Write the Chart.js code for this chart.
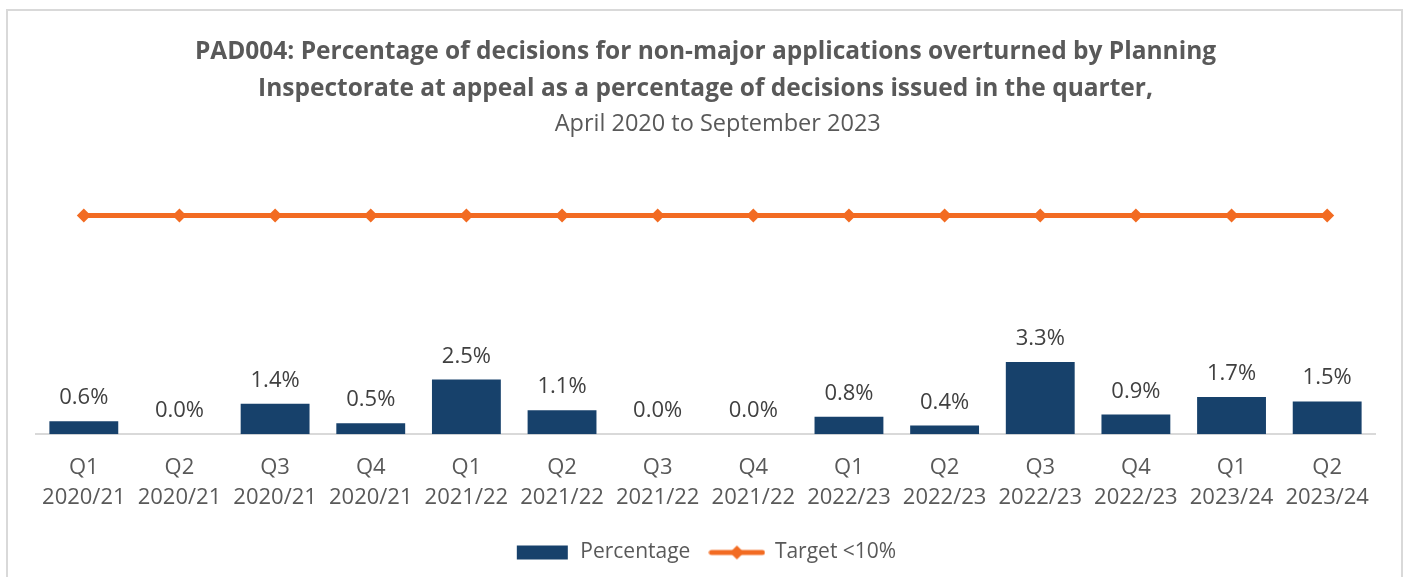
<!DOCTYPE html>
<html>
<head>
<meta charset="utf-8">
<script src="https://cdn.jsdelivr.net/npm/chart.js@4.4.0/dist/chart.umd.min.js"></script>
<style>
  html, body { margin: 0; padding: 0; background: #fff; }
  #wrap {
    position: absolute; left: 6px; top: 9px;
    width: 1393px; height: 570px;
    border: 2px solid #d9d9d9; background: #fff;
  }
</style>
</head>
<body>
<div id="wrap"><canvas id="grafico"></canvas></div>
<script>
const quarters = ["Q1", "Q2", "Q3", "Q4", "Q1", "Q2", "Q3", "Q4", "Q1", "Q2", "Q3", "Q4", "Q1", "Q2"];
const years = ["2020/21", "2020/21", "2020/21", "2020/21", "2021/22", "2021/22", "2021/22", "2021/22",
               "2022/23", "2022/23", "2022/23", "2022/23", "2023/24", "2023/24"];
const percentage = [0.6, 0.0, 1.4, 0.5, 2.5, 1.1, 0.0, 0.0, 0.8, 0.4, 3.3, 0.9, 1.7, 1.5];
const target = [10, 10, 10, 10, 10, 10, 10, 10, 10, 10, 10, 10, 10, 10];

const labels = quarters.map((q, i) => [q, years[i]]);

const AZUL = "#17416b";
const LARANJA = "#f26b22";
const CINZA = "#595959";
const FONTE = "'Open Sans', sans-serif";

// icones da legenda
function iconeLegenda(tipo) {
    const c = document.createElement("canvas");
    c.width = 57; c.height = 16;
    const g = c.getContext("2d");
    if (tipo === "bar") {
        g.fillStyle = AZUL;
        g.fillRect(3, 1, 51, 14);
    } else {
        g.strokeStyle = LARANJA;
        g.lineWidth = 5;
        g.lineCap = "round";
        g.beginPath(); g.moveTo(3, 8); g.lineTo(54, 8); g.stroke();
        g.fillStyle = LARANJA;
        g.beginPath();
        g.moveTo(28.5, 1); g.lineTo(35.5, 8); g.lineTo(28.5, 15); g.lineTo(21.5, 8);
        g.closePath(); g.fill();
    }
    return c;
}

// rotulos em cima das barras
const rotulosBarras = {
    id: "rotulosBarras",
    afterDatasetsDraw(chart) {
        const ctx = chart.ctx;
        const meta = chart.getDatasetMeta(1);
        ctx.save();
        ctx.font = "22px " + FONTE;
        ctx.fillStyle = "#404040";
        ctx.textAlign = "center";
        ctx.textBaseline = "alphabetic";
        meta.data.forEach((bar, i) => {
            ctx.fillText(percentage[i].toFixed(1) + "%", bar.x, bar.y - 17);
        });
        ctx.restore();
    }
};

const ctxGrafico = document.getElementById("grafico");

new Chart(ctxGrafico, {
    data: {
        labels: labels,
        datasets: [
            {
                type: "line",
                label: "Target <10%",
                data: target,
                borderColor: LARANJA,
                backgroundColor: LARANJA,
                borderWidth: 5,
                pointStyle: "rectRot",
                pointRadius: 7,
                pointHoverRadius: 7,
                pointBorderWidth: 0,
                tension: 0,
                order: 0
            },
            {
                type: "bar",
                label: "Percentage",
                data: percentage,
                backgroundColor: AZUL,
                categoryPercentage: 0.8,
                barPercentage: 0.9,
                order: 1
            }
        ]
    },
    options: {
        responsive: true,
        maintainAspectRatio: false,
        animation: false,
        layout: { padding: { left: 28, right: 26, top: 23, bottom: 8 } },
        plugins: {
            title: {
                display: true,
                text: ["PAD004: Percentage of decisions for non-major applications overturned by Planning",
                       "Inspectorate at appeal as a percentage of decisions issued in the quarter,"],
                color: CINZA,
                font: { family: FONTE, size: 24.5, weight: "bold", lineHeight: 1.51 },
                padding: { top: 0, bottom: 0 }
            },
            subtitle: {
                display: true,
                text: "    April 2020 to September 2023",
                color: CINZA,
                font: { family: FONTE, size: 23.5, lineHeight: 1.4 },
                padding: { top: 0, bottom: 31 }
            },
            legend: {
                position: "bottom",
                labels: {
                    color: CINZA,
                    font: { family: FONTE, size: 21 },
                    usePointStyle: true,
                    pointStyleWidth: 55,
                    boxHeight: 16,
                    padding: 19,
                    generateLabels() {
                        return [
                            { text: "Percentage", pointStyle: iconeLegenda("bar"), fontColor: CINZA, lineWidth: 0, strokeStyle: "transparent", fillStyle: AZUL, datasetIndex: 1 },
                            { text: "Target <10%", pointStyle: iconeLegenda("line"), fontColor: CINZA, lineWidth: 0, strokeStyle: "transparent", fillStyle: LARANJA, datasetIndex: 0 }
                        ];
                    }
                }
            },
            tooltip: { enabled: false }
        },
        scales: {
            x: {
                grid: { display: false },
                border: { display: true, color: "#d9d9d9", width: 2 },
                ticks: {
                    color: CINZA,
                    font: { family: FONTE, size: 22, lineHeight: 1.38 },
                    padding: 10,
                    maxRotation: 0,
                    autoSkip: false
                }
            },
            y: {
                display: false,
                min: 0,
                max: 12
            }
        }
    },
    plugins: [rotulosBarras]
});
</script>
</body>
</html>
